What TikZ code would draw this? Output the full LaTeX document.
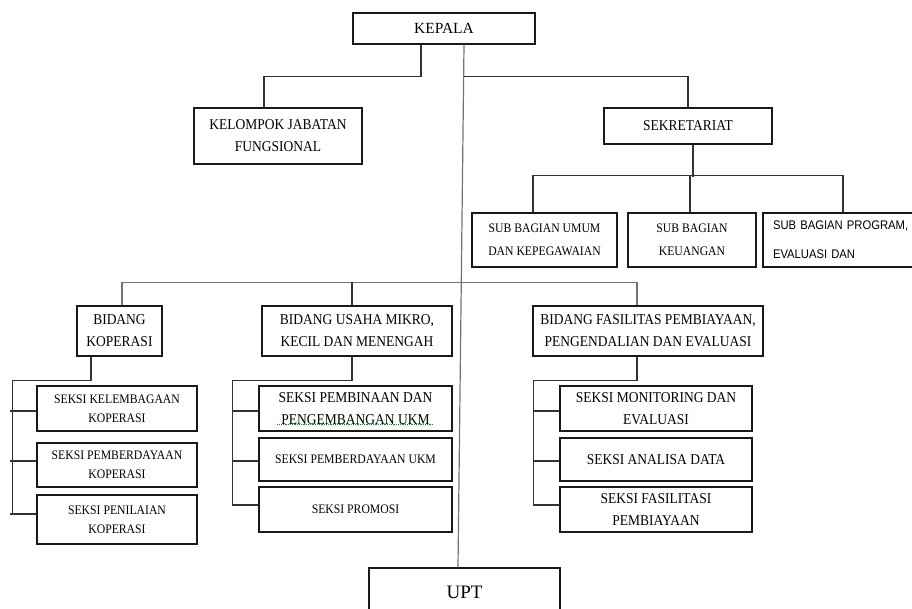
\documentclass[tikz,border=0pt]{standalone}
\usepackage{fontspec}
\setmainfont{Liberation Serif}
\newfontfamily\orgfont[FakeStretch=0.9]{Liberation Serif}
\newfontfamily\orgsans[FakeStretch=0.9]{Liberation Sans}

\begin{document}
\begin{tikzpicture}[x=1pt, y=-1pt,
    box/.style={draw=black!90, line width=1.2pt, inner sep=0pt, align=center,
        font=\orgfont\fontsize{15}{22}\selectfont},
    smallbox/.style={box, font=\orgfont\fontsize{13}{19}\selectfont},
    subbox/.style={box, font=\orgfont\fontsize{13}{23}\selectfont},
    link/.style={black!80, line width=1.2pt},
    trunk/.style={black!55, line width=1.2pt}]
    \useasboundingbox (0,0) rectangle (912,608);

    % Top level
    \node[box, minimum width=182pt, minimum height=31pt, font=\fontsize{15.5}{20}\selectfont] (kepala) at (444,28.5) {KEPALA};
    \node[box, minimum width=168pt, minimum height=56pt] (kjf) at (278,136) {KELOMPOK JABATAN\\FUNGSIONAL};
    \node[box, minimum width=168pt, minimum height=36pt] (sekr) at (688,126) {SEKRETARIAT};

    % Sub bagian
    \node[subbox, minimum width=145pt, minimum height=54pt] (sbu) at (544.5,240) {SUB BAGIAN UMUM\\DAN KEPEGAWAIAN};
    \node[subbox, minimum width=128pt, minimum height=54pt] (sbk) at (692,240) {SUB BAGIAN\\KEUANGAN};
    \node[box, font=\orgsans\fontsize{12.5}{29}\selectfont, align=left, text width=147pt,
        inner xsep=10pt, minimum height=54pt] (sbp) at (846.5,240) {SUB BAGIAN PROGRAM,\\EVALUASI DAN};

    % Bidang
    \node[box, minimum width=85pt, minimum height=50pt] (bk) at (119.5,331) {BIDANG\\KOPERASI};
    \node[box, minimum width=190pt, minimum height=50pt] (bumkm) at (357,331) {BIDANG USAHA MIKRO,\\KECIL DAN MENENGAH};
    \node[box, minimum width=230pt, minimum height=50pt] (bfp) at (648,331) {BIDANG FASILITAS PEMBIAYAAN,\\PENGENDALIAN DAN EVALUASI};

    % Seksi koperasi
    \node[smallbox, minimum width=160pt, minimum height=45pt] (skk) at (117,408.5) {SEKSI KELEMBAGAAN\\KOPERASI};
    \node[smallbox, minimum width=160pt, minimum height=44pt] (spk) at (117,465) {SEKSI PEMBERDAYAAN\\KOPERASI};
    \node[smallbox, minimum width=160pt, minimum height=49pt] (spnk) at (117,519.5) {SEKSI PENILAIAN\\KOPERASI};

    % Seksi UKM
    \node[box, minimum width=193pt, minimum height=45pt] (sppu) at (355.5,408.5) {SEKSI PEMBINAAN DAN\\PENGEMBANGAN UKM};
    \node[smallbox, minimum width=193pt, minimum height=43pt] (spu) at (355.5,459.5) {SEKSI PEMBERDAYAAN UKM};
    \node[smallbox, minimum width=193pt, minimum height=45pt] (spr) at (355.5,509.5) {SEKSI PROMOSI};

    % Seksi fasilitas
    \node[box, minimum width=192pt, minimum height=45pt] (smd) at (656,408.5) {SEKSI MONITORING DAN\\EVALUASI};
    \node[box, minimum width=192pt, minimum height=43pt] (sad) at (656,459.5) {SEKSI ANALISA DATA};
    \node[box, minimum width=192pt, minimum height=45pt] (sfp) at (656,509.5) {SEKSI FASILITASI\\PEMBIAYAAN};

    % UPT
    \node[box, minimum width=191pt, minimum height=48pt, font=\fontsize{19}{22}\selectfont] (upt) at (464.5,592) {UPT};

    % Lines from the top
    \draw[link] ([xshift=-23pt]kepala.south) -- ++(0,32) -| ([xshift=-14pt]kjf.north);
    \draw[trunk] ([xshift=20pt]kepala.south) -- ([xshift=-6.5pt]upt.north);
    \draw[link] ([xshift=20pt,yshift=-32pt]kepala.south) -| (sekr.north);
    \draw[link] ([xshift=5pt]sekr.south) -- ++(0,32);
    \draw[link] ([xshift=-11.5pt]sbu.north) -- ++(0,-37) -| ([xshift=-3.5pt]sbp.north);
    \draw[link] ([xshift=-2pt]sbk.north) -- ++(0,-37);

    % Bidang bus
    \draw[trunk] ([xshift=2.5pt]bk.north) -- ++(0,-23) -| ([xshift=-11pt]bfp.north);
    \draw[link] ([xshift=-5pt]bumkm.north) -- ++(0,-23);

    % Brackets to the seksi boxes
    \draw[link] ([xshift=-28.5pt]bk.south) -- ++(0,24) -| ([xshift=-24pt,yshift=5.5pt]spnk.west);
    \foreach \n/\dy in {skk/-2.5, spk/4, spnk/5.5}
        \draw[link] ([xshift=-26pt,yshift=\dy pt]\n.west) -- ++(26,0);
    \draw[link] ([xshift=-5pt]bumkm.south) -- ++(0,24) -| ([xshift=-26pt,yshift=4.5pt]spr.west);
    \foreach \n/\dy in {sppu/-2.5, spu/-1.5, spr/4.5}
        \draw[link] ([xshift=-26pt,yshift=\dy pt]\n.west) -- ++(26,0);
    \draw[link] ([xshift=-11pt]bfp.south) -- ++(0,24) -| ([xshift=-26pt,yshift=4.5pt]sfp.west);
    \foreach \n/\dy in {smd/-2.5, sad/-1.5, sfp/4.5}
        \draw[link] ([xshift=-26pt,yshift=\dy pt]\n.west) -- ++(26,0);

    % spell check mark
    \draw[green!60!black, densely dotted, line width=0.8pt] ([xshift=19pt,yshift=7pt]sppu.south west) -- ([xshift=-19pt,yshift=7pt]sppu.south east);
\end{tikzpicture}
\end{document}
